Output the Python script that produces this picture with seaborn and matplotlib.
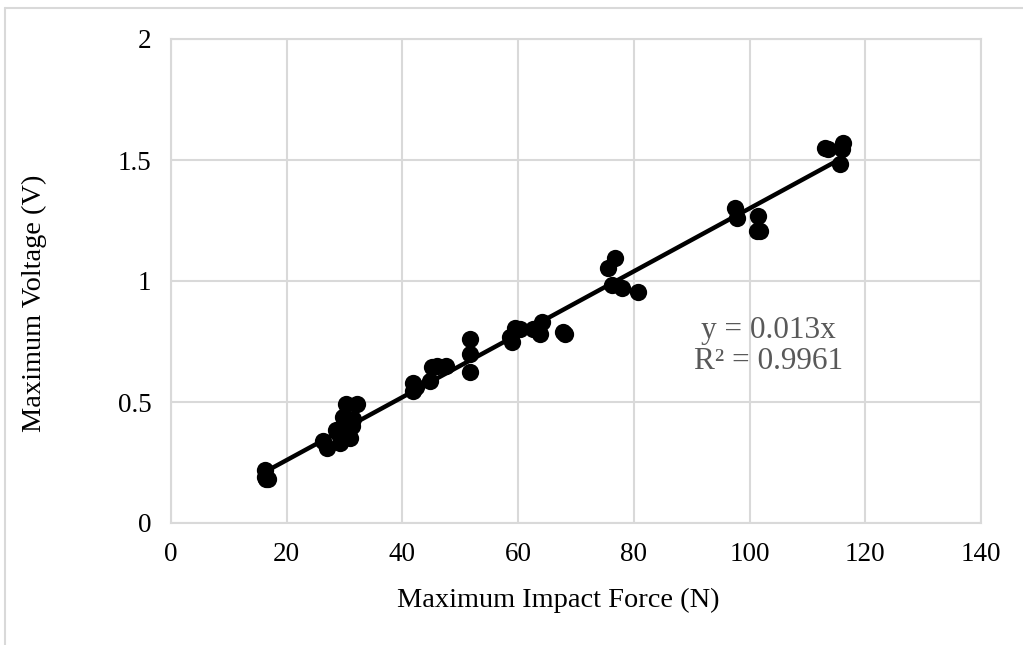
import matplotlib
matplotlib.use("Agg")
import matplotlib.pyplot as plt
import seaborn as sns
import numpy as np
import pandas as pd
from matplotlib.lines import Line2D

force = [16.3, 16.3, 16.5, 16.8, 26.3, 26.9, 28.6, 28.9, 29.2, 29.8, 30.2, 30.5,
         31.0, 31.2, 31.5, 32.1, 41.9, 41.9, 42.3, 44.8, 45.1, 46.0, 47.6, 51.7,
         51.7, 51.7, 58.6, 58.9, 59.5, 60.3, 62.6, 63.8, 64.1, 67.8, 68.1, 75.6,
         76.7, 76.2, 77.9, 80.8, 97.5, 97.8, 101.5, 101.2, 101.8, 113.0, 113.5,
         116.2, 115.9, 115.6]
voltage = [0.22, 0.19, 0.18, 0.18, 0.34, 0.31, 0.385, 0.37, 0.33, 0.44, 0.49, 0.42,
           0.35, 0.40, 0.43, 0.49, 0.58, 0.545, 0.56, 0.585, 0.645, 0.65, 0.65, 0.76,
           0.70, 0.625, 0.77, 0.75, 0.805, 0.80, 0.80, 0.78, 0.83, 0.79, 0.78, 1.055,
           1.095, 0.985, 0.972, 0.954, 1.30, 1.26, 1.27, 1.205, 1.205, 1.55, 1.545,
           1.572, 1.545, 1.482]
slope = 0.013
x_ticks = [0, 20, 40, 60, 80, 100, 120, 140]
y_ticks = [0, 0.5, 1, 1.5, 2]
y_tick_labels = ["0", "0.5", "1", "1.5", "2"]
eq_text = "y = 0.013x\nR² = 0.9961"

sns.set_theme(style="white")
plt.rcParams['font.family'] = ['Liberation Serif', 'DejaVu Serif']

df = pd.DataFrame({"force": force, "voltage": voltage})

fig = plt.figure(figsize=(10.23, 6.45), dpi=100)
ax = fig.add_axes([171/1023, (645-523)/645, (981-171)/1023, (523-39)/645])

grid_c = "#d9d9d9"
ax.set_xlim(0, 140)
ax.set_ylim(0, 2)
ax.set_xticks(x_ticks)
ax.set_yticks(y_ticks)
ax.set_yticklabels(y_tick_labels)
ax.grid(True, color=grid_c, linewidth=1.5)
ax.set_axisbelow(True)
for s in ax.spines.values():
    s.set_color(grid_c)
    s.set_linewidth(1.5)
ax.tick_params(axis='both', length=0, labelsize=19.5, colors="black", pad=14)

# trendline through origin
xl = np.array([min(force), max(force)])
ax.plot(xl, slope * xl, color="black", linewidth=3.2, zorder=2)

sns.scatterplot(data=df, x="force", y="voltage", ax=ax, s=155, color="black",
                edgecolor="black", linewidth=0, zorder=3)

ax.set_xlabel("Maximum Impact Force (N)", fontsize=20.4, color="black")
ax.set_ylabel("Maximum Voltage (V)", fontsize=20.4, color="black")
ax.xaxis.set_label_coords(0.478, -0.135)
ax.yaxis.set_label_coords(-0.153, 0.453)

ax.text(103.2, 0.73, eq_text, fontsize=22.5, color="#595959", ha="center",
        va="center", linespacing=1.1)

# outer chart border
fig.add_artist(Line2D([5/1023, 1.0], [1 - 8/645, 1 - 8/645], color=grid_c,
                      linewidth=1.5, transform=fig.transFigure))
fig.add_artist(Line2D([5/1023, 5/1023], [0, 1 - 8/645], color=grid_c,
                      linewidth=1.5, transform=fig.transFigure))

fig.savefig("out.png", dpi=100, facecolor="white")
